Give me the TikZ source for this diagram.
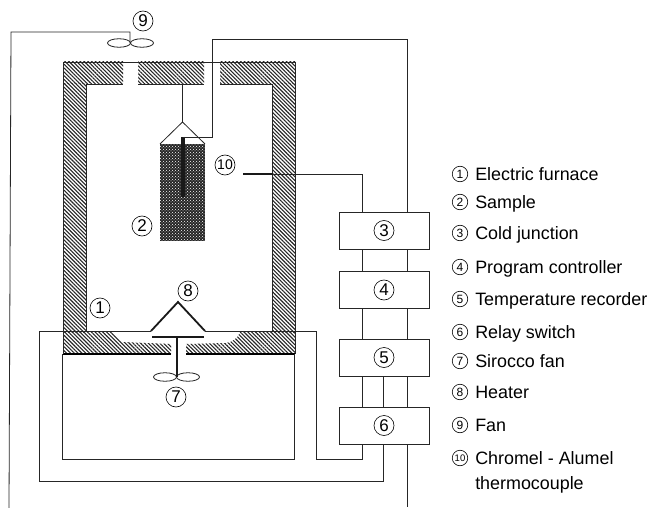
\documentclass[tikz,border=0pt]{standalone}
\usepackage{fontspec}
\setmainfont{Liberation Sans}
\usetikzlibrary{positioning}
\usetikzlibrary{shapes.geometric}
\usetikzlibrary{patterns.meta}
\usetikzlibrary{patterns}

\begin{document}
\begin{tikzpicture}
    [
    x=1pt,y=-1pt,
    wire/.style={line width=0.8pt,black!85},
    thick wire/.style={line width=2.6pt,black!90},
    hatched/.style={pattern={Lines[angle=-45,distance=2.7pt,line width=1.1pt]},pattern color=black!85},
    num/.style={circle,draw,line width=0.6pt,inner sep=0pt,minimum size=20pt,font=\fontsize{17}{17}\selectfont},
    key/.style={circle,draw,line width=0.6pt,inner sep=0pt,minimum size=15.5pt,font=\fontsize{12}{12}\selectfont},
    keytext/.style={right=7pt of #1,inner sep=0pt,text height=12pt,text depth=0pt,font=\fontsize{17.9}{18}\selectfont},
    unit/.style={draw,wire,fill=white,minimum width=90pt,minimum height=37pt,inner sep=0pt},
    blade/.style={draw,wire,fill=white,ellipse,minimum width=23pt,minimum height=8.5pt,inner sep=0pt},
    ]
    \useasboundingbox (0,0) rectangle (653,508);

    % furnace walls
    \fill [hatched] (63,62) rectangle (123,84);
    \fill [hatched] (138,62) rectangle (204,84);
    \fill [hatched] (220,62) rectangle (295,84);
    \fill [hatched] (63,84) rectangle (86,332);
    \fill [hatched] (272,84) rectangle (295,332);
    \fill [hatched] (63,332) to (113,332) to (122,342) to (171,344) to (171,354) to (63,354) -- cycle;
    \fill [hatched] (186,344) to (226,343) .. controls (233,342) and (238,338) .. (240,332) to (295,332) to (295,354) to (186,354) -- cycle;
    \draw [wire] (63,62) to (295,62);
    \draw [wire] (86,84) to (123,84);
    \draw [wire] (138,84) to (204,84);
    \draw [wire] (220,84) to (272,84);
    \draw [wire] (86,84) to (86,332);
    \draw [wire] (272,84) to (272,332);
    \draw [line width=1.1pt] (63,354) to (171,354);
    \draw [line width=1.1pt] (186,354) to (295,354);
    \draw [wire] (63,62) to (63,354);
    \draw [wire] (295,62) to (295,354);

    % sample
    \coordinate (hook) at (182.5,84);
    \coordinate (apex) at (182.5,122);
    \coordinate (sl) at (160,144);
    \coordinate (sr) at (205,144);
    \fill [black!85] (sl) rectangle (205,241);
    \fill [pattern=crosshatch dots,pattern color=white] (sl) rectangle (205,241);
    \draw [wire] (hook) to (apex);
    \draw [wire] (sl) to (apex) to (sr);

    % units
    \node (u3) at (384,230.5) [unit] {};
    \node (u4) at (384,290) [unit] {};
    \node (u5) at (384,357.5) [unit] {};
    \node (u6) at (384,425.5) [unit] {};
    \node (n3) at (u3) [num] {3};
    \node (n4) at (u4) [num] {4};
    \node (n5) at (u5) [num] {5};
    \node (n6) at (u6) [num] {6};
    \coordinate (cl) at (362,0);
    \coordinate (cm) at (383,0);
    \coordinate (cr) at (407,0);
    \draw [wire] (u3.south -| cl) to (u4.north -| cl);
    \draw [wire] (u3.south -| cr) to (u4.north -| cr);
    \draw [wire] (u4.south -| cl) to (u5.north -| cl);
    \draw [wire] (u4.south -| cr) to (u5.north -| cr);
    \draw [wire] (u5.south -| cl) to (u6.north -| cl);
    \draw [wire] (u5.south -| cm) to (u6.north -| cm);
    \draw [wire] (u5.south -| cr) to (u6.north -| cr);

    % thermocouples
    \coordinate (t1) at (183,137);
    \coordinate (t2) at (183,197);
    \coordinate (t3) at (212.5,137);
    \coordinate (t4) at (212.5,39);
    \coordinate (t5) at (407,39);
    \coordinate (t6) at (243,174);
    \coordinate (t7) at (273,174);
    \coordinate (t8) at (362,174);
    \draw [thick wire,line width=3.4pt] (t1) to (t2);
    \draw [wire] (t1) to (t3) to (t4) to (t5) to (u3.north -| t5);
    \draw [thick wire] (t6) to (t7);
    \draw [wire] (t7) to (t8) to (u3.north -| t8);

    % fan on top
    \coordinate (f9) at (130,43);
    \coordinate (w1) at (130,32);
    \coordinate (w2) at (11,32);
    \coordinate (w3) at (9,508);
    \node (b1) at (119,43) [blade] {};
    \node (b2) at (142,43) [blade] {};
    \draw [wire] (f9) to (w1) to (w2) to (w3);

    % heater and sirocco fan
    \coordinate (h1) at (151,331);
    \coordinate (h2) at (178,302);
    \coordinate (h3) at (205,331);
    \coordinate (h4) at (152,337);
    \coordinate (h5) at (204,337);
    \coordinate (s1) at (177,337);
    \coordinate (s2) at (177,377);
    \node (b3) at (165,377) [blade] {};
    \node (b4) at (188,377) [blade] {};
    \draw [thick wire,line width=1.8pt] (h1) to (h2) to (h3);
    \draw [thick wire,line width=2pt] (h4) to (h5);
    \draw [thick wire,line width=2pt] (s1) to (s2);

    % outer wiring
    \coordinate (o1) at (39,331);
    \coordinate (o2) at (316,331);
    \coordinate (o3) at (316,459);
    \coordinate (o4) at (39,481);
    \coordinate (i1) at (62,354);
    \coordinate (i2) at (62,459);
    \coordinate (i3) at (294,459);
    \coordinate (i4) at (294,354);
    \coordinate (o5) at (383,481);
    \coordinate (o6) at (362,459);
    \coordinate (o7) at (407,507);
    \draw [wire] (u6.south -| o6) to (o6) to (o3) to (o2) to (h3);
    \draw [wire] (h1) to (o1) to (o4) to (o5) to (u6.south -| o5);
    \draw [wire] (i1) to (i2) to (i3) to (i4);
    \draw [wire] (u6.south -| o7) to (o7);

    % numbers
    \node (n1) at (100,308) [num] {1};
    \node (n2) at (142,226) [num] {2};
    \node (n7) at (176,397) [num] {7};
    \node (n8) at (188,291) [num] {8};
    \node (n9) at (143,21) [num] {9};
    \node (n10) at (225,165) [num,font=\fontsize{14}{14}\selectfont] {10};

    % legend
    \node (k1) at (460,174) [key] {1};
    \node (k2) at (460,202) [key] {2};
    \node (k3) at (460,233) [key] {3};
    \node (k4) at (460,267) [key] {4};
    \node (k5) at (460,299) [key] {5};
    \node (k6) at (460,332) [key] {6};
    \node (k7) at (460,361) [key] {7};
    \node (k8) at (460,392) [key] {8};
    \node (k9) at (460,425) [key] {9};
    \node (k10) at (460,458) [key,font=\fontsize{9.5}{9.5}\selectfont] {10};
    \node (l1) [keytext=k1] {Electric furnace};
    \node (l2) [keytext=k2] {Sample};
    \node (l3) [keytext=k3] {Cold junction};
    \node (l4) [keytext=k4] {Program controller};
    \node (l5) [keytext=k5] {Temperature recorder};
    \node (l6) [keytext=k6] {Relay switch};
    \node (l7) [keytext=k7] {Sirocco fan};
    \node (l8) [keytext=k8] {Heater};
    \node (l9) [keytext=k9] {Fan};
    \node (l10) [keytext=k10] {Chromel - Alumel};
    \node (l11) [below=19pt of l10.south west,anchor=west,inner sep=0pt,text height=12pt,text depth=0pt,font=\fontsize{17.9}{18}\selectfont] {thermocouple};
  \end{tikzpicture}
\end{document}
